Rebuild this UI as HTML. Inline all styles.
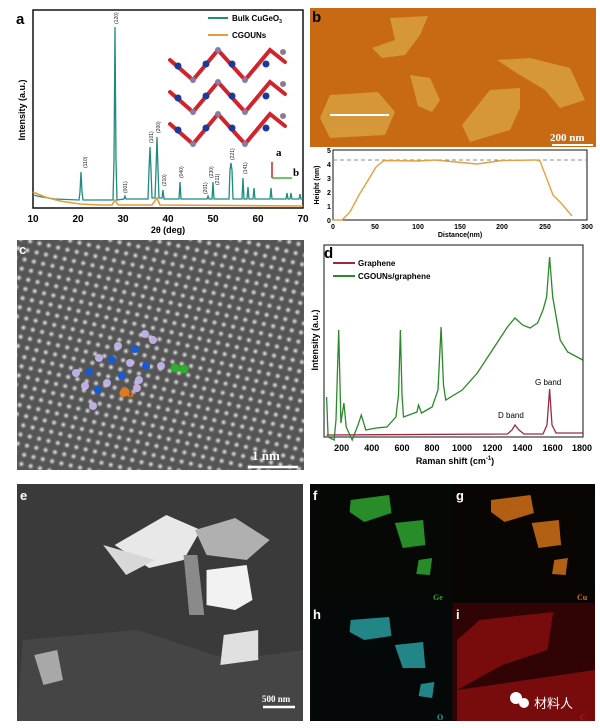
<!DOCTYPE html>
<html><head><meta charset="utf-8"><style>
html,body{margin:0;padding:0;background:#fff;}
svg{display:block;font-family:"Liberation Sans",Arial,sans-serif;}
</style></head><body>
<svg width="600" height="728" viewBox="0 0 600 728" xmlns="http://www.w3.org/2000/svg">
<defs>
<radialGradient id="dot"><stop offset="0" stop-color="#f4f4f4"/><stop offset="0.6" stop-color="#a0a0a0" stop-opacity="0.6"/><stop offset="1" stop-color="#555" stop-opacity="0"/></radialGradient>
<pattern id="lat" width="14" height="13" patternUnits="userSpaceOnUse" patternTransform="rotate(-30)">
<rect width="14" height="13" fill="#555"/>
<circle cx="3.5" cy="3" r="3.8" fill="url(#dot)"/>
<circle cx="10.5" cy="9.5" r="3.8" fill="url(#dot)"/>
</pattern>
</defs>

<!-- Panel a -->
<rect x="33" y="10" width="270" height="198" fill="#fff" stroke="#111" stroke-width="1.5"/>
<text x="16" y="24" font-size="15" font-weight="bold">a</text>
<path d="M33,195 L42,197 L55,199 L79,200 L80,192 L81,172 L82,192 L83,200 L113,200 L114,160 L115,27 L116,160 L117,200 L124,199 L125,196 L126,199 L148,199 L149,170 L150,147 L151,170 L152,198 L155,198 L156,170 L157,137 L158,170 L159,198 L162,198 L163,190 L164,199 L179,199 L180,182 L181,199 L207,199 L208,196 L209,199 L212,199 L213,182 L214,199 L229,199 L230,170 L231,163 L232,170 L233,199 L242,199 L243,178 L244,199 L247,199 L248,187 L249,199 L253,199 L254,188 L255,199 L270,199 L271,188 L272,199 L286,199 L287,193 L288,199 L290,199 L291,193 L292,199 L299,199 L300,194 L301,199 L303,199" fill="none" stroke="#1f8c7f" stroke-width="1.3"/>
<path d="M33,192 L45,197 L60,201 L80,204 L100,205 L112,205 L115,200 L118,205 L152,205 L157,198 L160,205 L303,206" fill="none" stroke="#e69a3a" stroke-width="1.6"/>
<g font-size="5" fill="#222">
<text transform="translate(87,168) rotate(-90)">(110)</text>
<text transform="translate(118,24) rotate(-90)">(120)</text>
<text transform="translate(127,193) rotate(-90)">(001)</text>
<text transform="translate(153,143) rotate(-90)">(101)</text>
<text transform="translate(160,133) rotate(-90)">(200)</text>
<text transform="translate(166,186) rotate(-90)">(210)</text>
<text transform="translate(183,178) rotate(-90)">(040)</text>
<text transform="translate(207,194) rotate(-90)">(201)</text>
<text transform="translate(213,178) rotate(-90)">(230)</text>
<text transform="translate(219,185) rotate(-90)">(211)</text>
<text transform="translate(234,160) rotate(-90)">(221)</text>
<text transform="translate(247,174) rotate(-90)">(141)</text>
</g>
<line x1="208" y1="18" x2="228" y2="18" stroke="#1f8c7f" stroke-width="2"/>
<text x="232" y="21" font-size="8" font-weight="bold">Bulk CuGeO<tspan font-size="5" dy="2">3</tspan></text>
<line x1="208" y1="35" x2="228" y2="35" stroke="#e69a3a" stroke-width="2"/>
<text x="232" y="38" font-size="8" font-weight="bold">CGOUNs</text>
<g stroke="#d2232a" stroke-width="4" fill="none" stroke-linecap="round">
<path d="M170,60 L193,80 L218,50 L245,80 L270,50 L285,62"/>
<path d="M170,92 L193,112 L218,82 L245,112 L270,82 L285,94"/>
<path d="M170,124 L193,144 L218,114 L245,144 L270,114 L285,126"/>
</g>
<g fill="#1a3a9a">
<circle cx="178" cy="66" r="3.5"/><circle cx="206" cy="64" r="3.5"/><circle cx="232" cy="64" r="3.5"/><circle cx="266" cy="64" r="3.5"/>
<circle cx="178" cy="98" r="3.5"/><circle cx="206" cy="96" r="3.5"/><circle cx="232" cy="96" r="3.5"/><circle cx="266" cy="96" r="3.5"/>
<circle cx="178" cy="130" r="3.5"/><circle cx="206" cy="128" r="3.5"/><circle cx="232" cy="128" r="3.5"/><circle cx="266" cy="128" r="3.5"/>
</g>
<g fill="#8a7aa0"><circle cx="193" cy="80" r="3"/><circle cx="218" cy="50" r="3"/><circle cx="245" cy="80" r="3"/><circle cx="283" cy="52" r="3"/>
<circle cx="193" cy="112" r="3"/><circle cx="218" cy="82" r="3"/><circle cx="245" cy="112" r="3"/><circle cx="283" cy="84" r="3"/>
<circle cx="193" cy="144" r="3"/><circle cx="218" cy="114" r="3"/><circle cx="245" cy="144" r="3"/><circle cx="283" cy="116" r="3"/></g>
<line x1="272" y1="178" x2="272" y2="162" stroke="#d2232a" stroke-width="1.5"/>
<line x1="272" y1="178" x2="292" y2="178" stroke="#3bb33b" stroke-width="1.5"/>
<text x="276" y="156" font-size="11" font-weight="bold" font-family="Liberation Serif,serif">a</text>
<text x="293" y="176" font-size="11" font-weight="bold" font-family="Liberation Serif,serif">b</text>
<g font-size="10" font-weight="bold" text-anchor="middle">
<text x="33" y="222">10</text><text x="78" y="222">20</text><text x="123" y="222">30</text><text x="168" y="222">40</text><text x="213" y="222">50</text><text x="258" y="222">60</text><text x="303" y="222">70</text>
<text x="168" y="233" font-size="9">2θ (deg)</text>
<text transform="translate(25,110) rotate(-90)" font-size="9">Intensity (a.u.)</text>
</g>

<!-- Panel b -->
<rect x="310" y="8" width="286" height="139" fill="#c86a14"/>
<g fill="#d9a040" opacity="0.85">
<path d="M390,18 L428,16 L420,35 L405,55 L382,58 L372,48 L395,40 Z"/>
<path d="M410,75 L430,78 L440,100 L432,112 L418,106 Z"/>
<path d="M330,95 L378,92 L395,112 L385,135 L330,138 L320,118 Z"/>
<path d="M490,90 L520,88 L520,108 L510,130 L470,142 L462,125 Z"/>
<path d="M497,60 L530,58 L570,68 L585,100 L560,108 L545,90 L515,72 Z"/>
</g>
<line x1="330" y1="115" x2="389" y2="115" stroke="#fff" stroke-width="2"/>
<text x="550" y="141" font-size="11" font-weight="bold" fill="#fff" font-family="Liberation Serif,serif">200 nm</text>
<line x1="552" y1="145" x2="593" y2="145" stroke="#fff" stroke-width="2"/>
<text x="312" y="22" font-size="15" font-weight="bold">b</text>
<rect x="333" y="150" width="254" height="70" fill="#fff" stroke="#111" stroke-width="1"/>
<line x1="333" y1="160" x2="587" y2="160" stroke="#888" stroke-dasharray="4,3"/>
<path d="M333,220 L342,220 L350,212 L359,195 L367,182 L376,167 L384,160.5 L418,161 L435,160 L477,164 L502,160.5 L536,160 L540,161 L553,195 L561,203 L572,216" fill="none" stroke="#e6a040" stroke-width="1.4"/>
<g font-size="7" font-weight="bold">
<text x="327" y="223">0</text><text x="327" y="209">1</text><text x="327" y="195">2</text><text x="327" y="181">3</text><text x="327" y="167">4</text><text x="327" y="153">5</text>
<g text-anchor="middle"><text x="333" y="229">0</text><text x="375" y="229">50</text><text x="418" y="229">100</text><text x="460" y="229">150</text><text x="502" y="229">200</text><text x="545" y="229">250</text><text x="587" y="229">300</text>
<text x="460" y="237">Distance(nm)</text>
<text transform="translate(319,185) rotate(-90)">Height (nm)</text></g>
</g>

<!-- Panel c -->
<rect x="17" y="240" width="287" height="230" fill="url(#lat)"/>
<g fill="#c8b8f0" opacity="0.9">
<circle cx="76" cy="373" r="4"/><circle cx="99" cy="358" r="4"/><circle cx="107" cy="383" r="4"/><circle cx="118" cy="346" r="4"/><circle cx="130" cy="363" r="4"/><circle cx="145" cy="334" r="4"/><circle cx="153" cy="340" r="4"/><circle cx="161" cy="366" r="4"/><circle cx="137" cy="388" r="4"/><circle cx="93" cy="406" r="4"/><circle cx="85" cy="386" r="4"/><circle cx="139" cy="380" r="4"/>
</g>
<g fill="#1a5ad0"><circle cx="89" cy="372" r="4"/><circle cx="112" cy="360" r="4"/><circle cx="135" cy="349" r="4"/><circle cx="122" cy="376" r="4"/><circle cx="146" cy="366" r="4"/><circle cx="98" cy="390" r="4"/></g>
<circle cx="125" cy="392" r="4.5" fill="#e07a20"/>
<text x="119" y="397" font-size="11" font-weight="bold" fill="#e07a20">Cu</text>
<circle cx="175" cy="368" r="4.5" fill="#2ab02a"/><circle cx="184" cy="369" r="4.5" fill="#2ab02a"/>
<text x="19" y="254" font-size="13" font-weight="bold" fill="#fff">c</text>
<text x="252" y="460" font-size="13" font-weight="bold" fill="#fff" font-family="Liberation Serif,serif">1 nm</text>
<line x1="248" y1="467" x2="298" y2="467" stroke="#fff" stroke-width="2.5"/>

<!-- Panel d -->
<rect x="324" y="245" width="259" height="192" fill="#fff" stroke="#111" stroke-width="1"/>
<text x="324" y="258" font-size="15" font-weight="bold">d</text>
<path d="M326.6,397 L328.1,437 L334.1,440 L336,420 L338.7,330 L340.9,423 L343.9,403 L346.2,427 L352.2,440 L358,425 L361.3,415 L365.8,430 L376.3,428 L386.9,427 L395.9,417 L398.5,395 L400.4,330 L402,395 L403.5,417 L417,412 L418.5,405 L421.5,413 L432.1,407 L438,390 L441.1,327 L443.5,385 L445.7,400 L462.2,390 L477.3,373 L492.4,350 L507.4,327 L515,318 L522.5,325 L530,328 L537.6,323 L543,310 L546.6,297 L549.6,257 L552.7,297 L560.2,340 L567.7,352 L582.8,360" fill="none" stroke="#2a8a2a" stroke-width="1.3"/>
<path d="M326.6,435 L507.4,434 L512,430 L515,425 L519,430 L524,434 L543,434 L547,425 L549.6,389 L552,425 L556,433 L582.8,433" fill="none" stroke="#9a2a40" stroke-width="1.3"/>
<line x1="333" y1="263" x2="355" y2="263" stroke="#9a2a40" stroke-width="2"/>
<text x="358" y="266" font-size="8" font-weight="bold">Graphene</text>
<line x1="333" y1="276" x2="355" y2="276" stroke="#2a8a2a" stroke-width="2"/>
<text x="358" y="279" font-size="8" font-weight="bold">CGOUNs/graphene</text>
<text x="535" y="385" font-size="8">G band</text>
<text x="498" y="418" font-size="8">D band</text>
<g font-size="9" font-weight="bold" text-anchor="middle">
<text x="341.7" y="451">200</text><text x="371.8" y="451">400</text><text x="402" y="451">600</text><text x="432" y="451">800</text><text x="462" y="451">1000</text><text x="492.4" y="451">1200</text><text x="522.5" y="451">1400</text><text x="552.7" y="451">1600</text><text x="582" y="451">1800</text>
<text x="455" y="464">Raman shift (cm<tspan font-size="6" dy="-4">-1</tspan><tspan dy="4">)</tspan></text>
<text transform="translate(318,340) rotate(-90)">Intensity (a.u.)</text>
</g>

<!-- Panel e -->
<g transform="translate(17,0) scale(1.1486,1) translate(-15,0)">
<rect x="15" y="484" width="249" height="237" fill="#3a3a3a"/>
<path d="M20,640 L120,630 L200,660 L264,650 L264,721 L15,721 Z" fill="#454545"/>
<path d="M100,545 L145,515 L175,530 L160,560 L130,568 Z" fill="#e8e8e8"/>
<path d="M90,545 L135,560 L110,575 Z" fill="#d8d8d8"/>
<path d="M170,530 L205,518 L235,540 L215,560 L180,555 Z" fill="#b0b0b0"/>
<path d="M180,570 L215,565 L220,600 L205,610 L180,605 Z" fill="#f2f2f2"/>
<path d="M160,555 L172,555 L178,615 L165,615 Z" fill="#8a8a8a"/>
<path d="M195,635 L225,630 L225,660 L192,665 Z" fill="#e0e0e0"/>
<path d="M30,655 L50,650 L55,680 L38,685 Z" fill="#a8a8a8"/>
</g>
<text x="20" y="500" font-size="13" font-weight="bold" fill="#fff">e</text>
<text x="262" y="702" font-size="9" font-weight="bold" fill="#fff" font-family="Liberation Serif,serif">500 nm</text>
<line x1="263" y1="707" x2="295" y2="707" stroke="#fff" stroke-width="2.5"/>

<!-- f g h i -->
<g transform="translate(310,0) scale(1.131,1) translate(-270,0)">
<rect x="270" y="484" width="126" height="119" fill="#050805"/>
<rect x="396" y="484" width="126" height="119" fill="#080503"/>
<rect x="270" y="603" width="126" height="118" fill="#040808"/>
<rect x="396" y="603" width="126" height="118" fill="#300404"/>
<g fill="#2fa52f" opacity="0.85"><path d="M306,500 L340,495 L342,513 L318,522 L305,512 Z"/><path d="M345,523 L370,520 L372,545 L352,548 Z"/><path d="M366,560 L378,558 L376,575 L364,574 Z"/></g>
<g fill="#d07018" opacity="0.85"><path d="M430,500 L465,495 L468,513 L442,522 L430,512 Z"/><path d="M466,523 L490,520 L492,545 L472,548 Z"/><path d="M486,560 L498,558 L496,575 L484,574 Z"/></g>
<g fill="#2aa6a8" opacity="0.8"><path d="M306,620 L340,617 L342,636 L318,640 L305,632 Z"/><path d="M345,645 L370,642 L372,668 L352,668 Z"/><path d="M368,684 L380,682 L378,698 L366,696 Z"/></g>
<g fill="#a81010" opacity="0.6"><path d="M420,620 L485,612 L480,650 L440,665 L400,690 L400,640 Z"/><path d="M400,690 L522,670 L522,721 L400,721 Z"/></g>
</g>
<g font-size="13" font-weight="bold" fill="#fff"><text x="313" y="500">f</text><text x="456" y="500">g</text><text x="313" y="619">h</text><text x="456" y="619">i</text></g>
<g font-size="8" font-weight="bold" font-family="Liberation Serif,serif"><text x="433" y="600" fill="#2fa52f">Ge</text><text x="577" y="600" fill="#d07018">Cu</text><text x="437" y="720" fill="#2aa6a8">O</text><text x="580" y="720" fill="#c01010">C</text></g>
<circle cx="516" cy="698" r="6" fill="#fff"/><circle cx="524" cy="703" r="5" fill="#fff"/>
<text x="534" y="708" font-size="13" fill="#fff" font-family="Liberation Sans,'Noto Sans CJK SC',sans-serif">材料人</text>
</svg>
</body></html>
